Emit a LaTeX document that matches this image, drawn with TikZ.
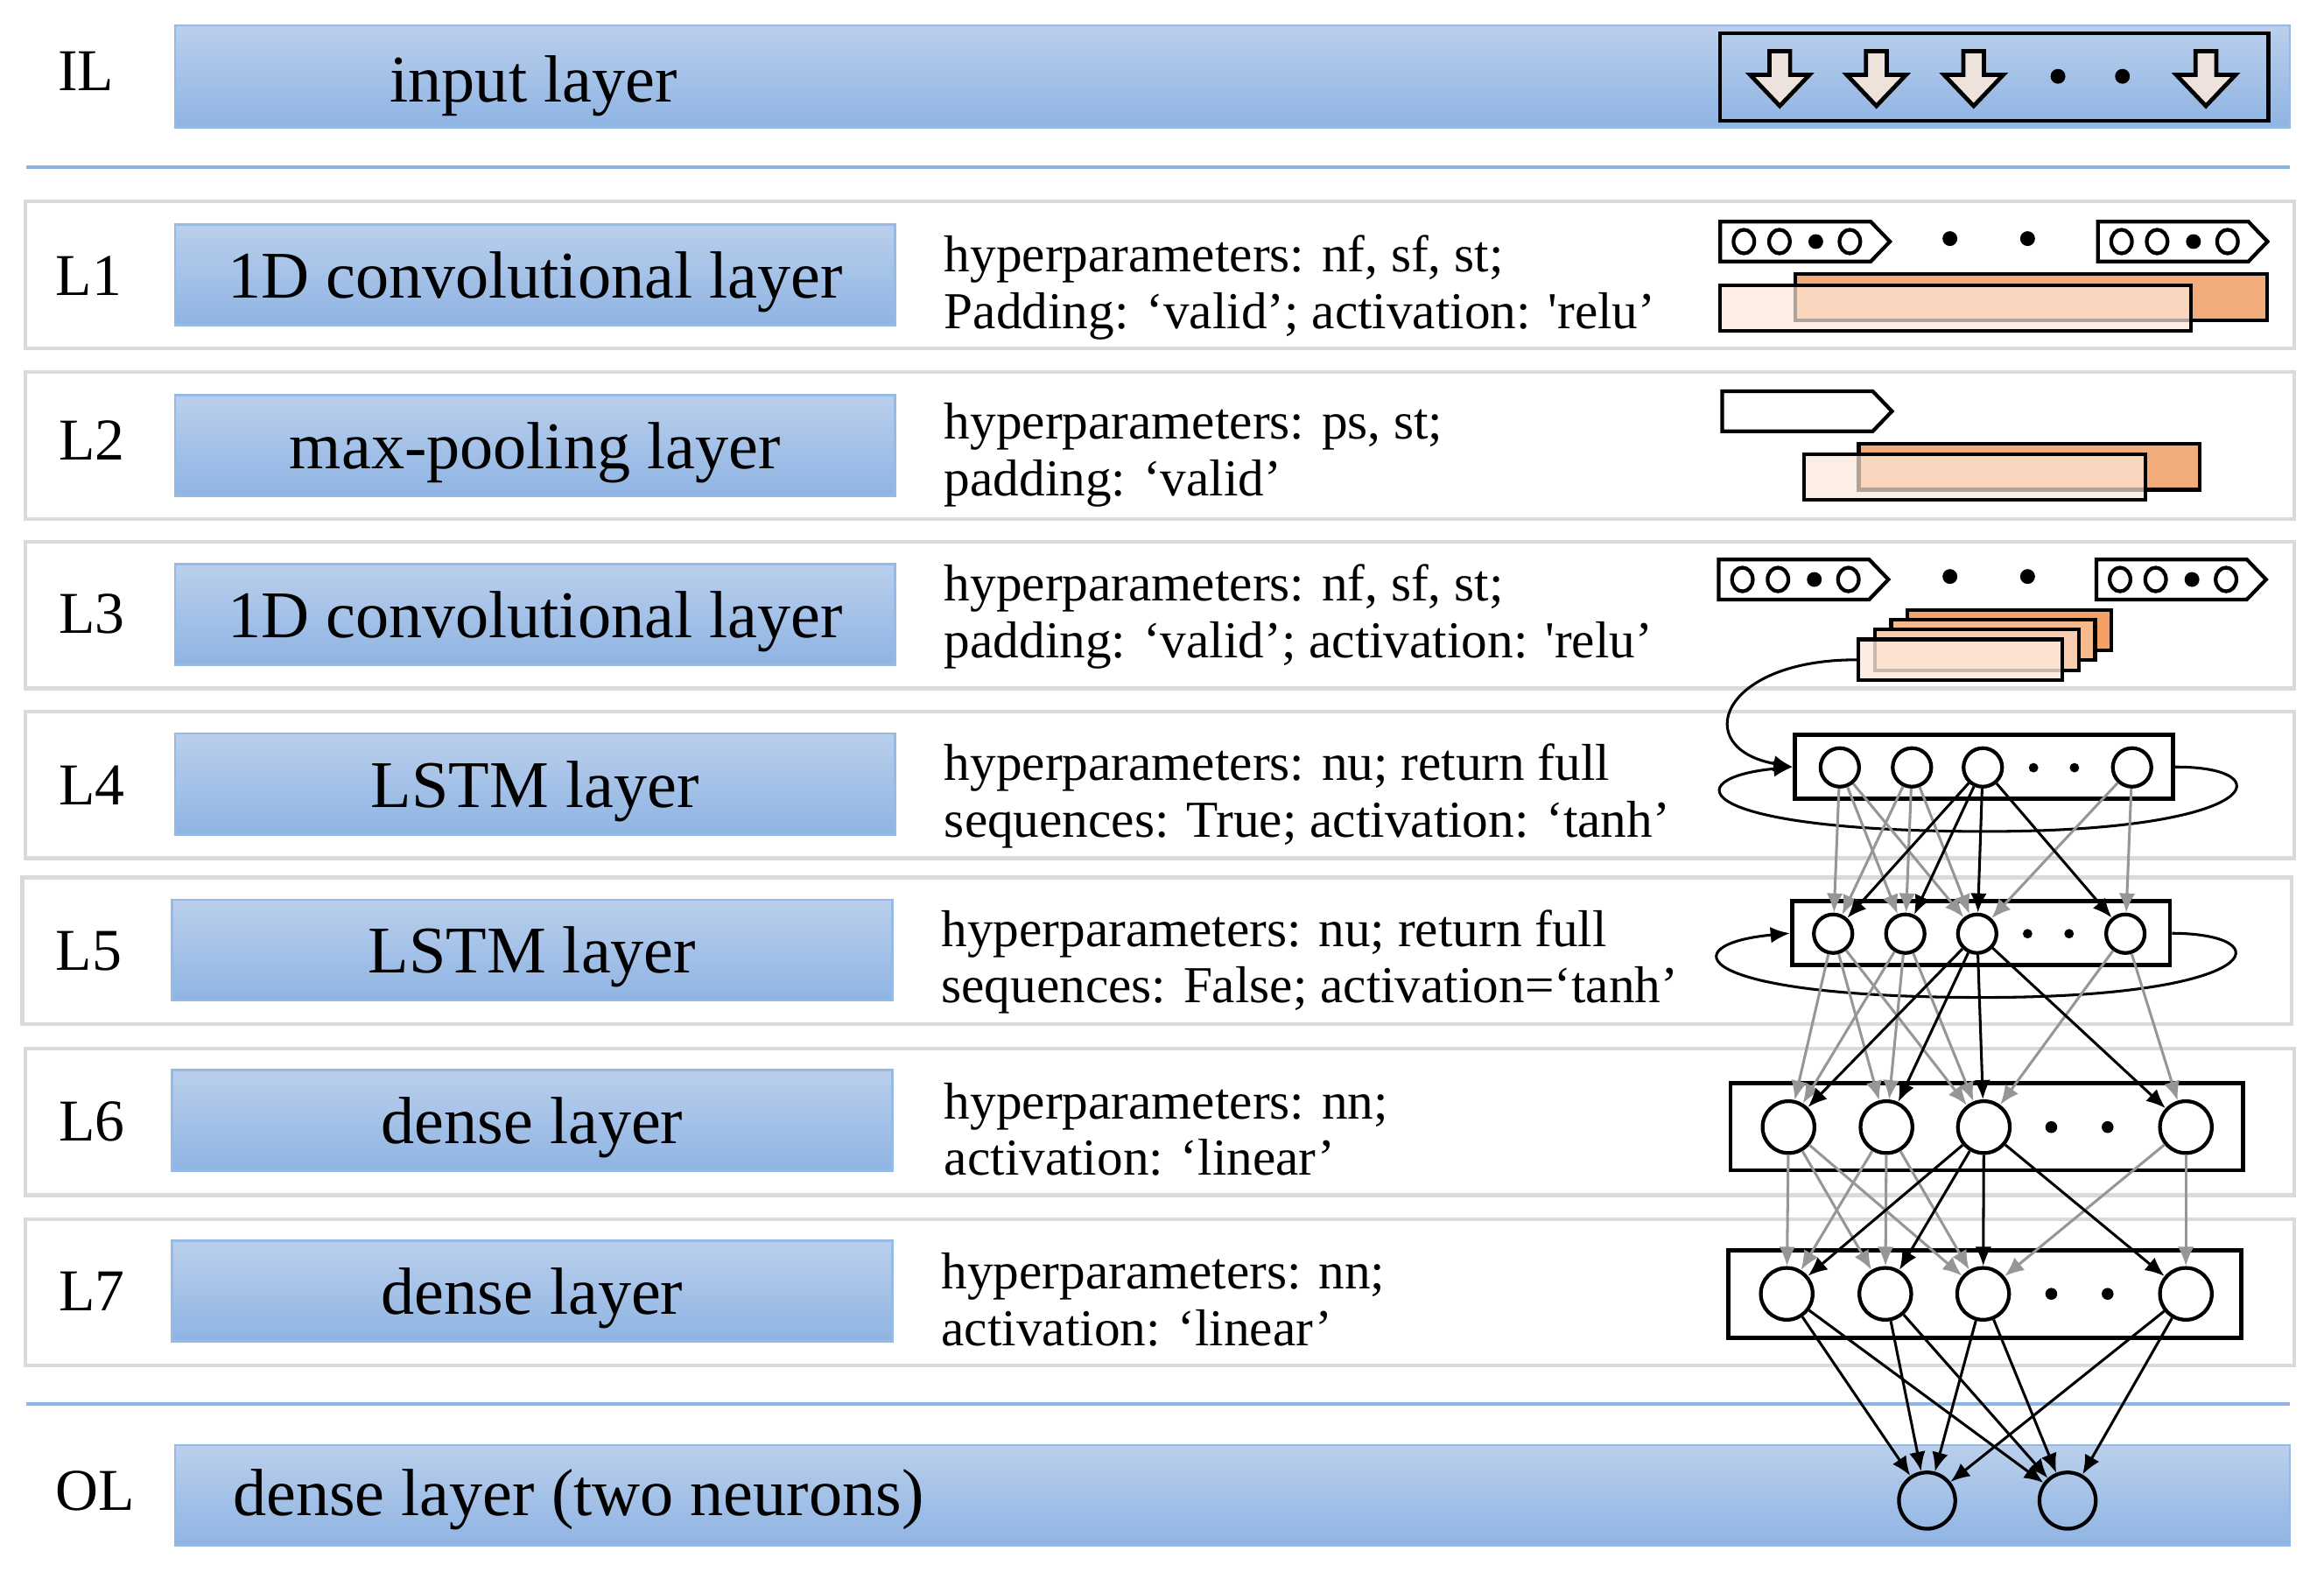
\documentclass[tikz,border=0pt]{standalone}
\usepackage{fontspec}
\setmainfont{Liberation Serif}
\usepackage{xcolor}
\usepackage{tikz}
\usetikzlibrary{shapes.geometric, arrows, arrows.meta}
\definecolor{bartop}{RGB}{186,207,236}
\definecolor{barbot}{RGB}{143,180,227}
\definecolor{barline}{RGB}{150,186,230}
\definecolor{rowline}{RGB}{218,218,218}
\definecolor{sepline}{RGB}{141,180,226}
\definecolor{tipfill}{RGB}{238,226,220}
\definecolor{mapback}{RGB}{242,172,124}
\definecolor{mapfront}{RGB}{252,232,218}
\definecolor{linegray}{RGB}{150,150,150}
\tikzstyle{rowbox} = [rectangle, draw=rowline, line width=2.5pt, fill=white, minimum width=1531pt, minimum height=99pt, inner sep=0pt]
\tikzstyle{layerbar} = [rectangle, draw=barline, line width=1.5pt, top color=bartop, bottom color=barbot, minimum width=486pt, minimum height=68pt, inner sep=0pt, text depth=0pt, font=\fontsize{45}{50}\selectfont]
\tikzstyle{bartext} = [inner sep=0pt, text depth=0pt, font=\fontsize{45}{50}\selectfont]
\tikzstyle{laytag} = [inner sep=0pt, font=\fontsize{40}{44}\selectfont]
\tikzstyle{hyper} = [anchor=west, align=left, inner sep=0pt, font=\fontsize{35}{38}\selectfont]
\tikzstyle{unitbox} = [rectangle, draw=black, line width=2.8pt, fill=white, inner sep=0pt]
\tikzstyle{neuron} = [circle, draw=black, line width=2.5pt, minimum size=26pt, inner sep=0pt]
\tikzstyle{bigneuron} = [neuron, minimum size=35pt]
\tikzstyle{outneuron} = [neuron, minimum size=38pt]
\tikzstyle{arrow} = [line width=1.8pt, ->, >={Latex[length=13pt,width=11pt]}]
\tikzstyle{garrow} = [arrow, draw=linegray]
\tikzstyle{sep} = [draw=sepline, line width=2.5pt]
\tikzstyle{fmap} = [draw=black, line width=2.5pt]

\begin{document}
\begin{tikzpicture}[x=1pt, y=-1pt]
\useasboundingbox (0,0) rectangle (1568,1065);

% input layer
\node (ilab) [laytag] at (58,48) {IL};
\node (inbar) [layerbar, minimum width=1427pt, minimum height=69pt] at (831.5,51.5) {};
\node (intext) [bartext] at (360,53) {input layer};
\node (inbox) [unitbox, fill=none, minimum width=370pt, minimum height=59pt] at (1345.5,52) {};
\foreach \ax in {1200.8,1266,1331.6,1488.3}
  \draw [fill=tipfill, line width=2.8pt, line join=miter] (\ax-7,34.5) -- (\ax+7,34.5) -- (\ax+7,50.5) -- (\ax+20,50.5) -- (\ax,71.5) -- (\ax-20,50.5) -- (\ax-7,50.5) -- cycle;
\fill (1388.5,51.5) circle (5);
\fill (1432,51.5) circle (5);
\draw [sep] (18,113) -- (1545,113);

% hidden layers
\node (row1) [rowbox] at (782.5,185.5) {};
\node (row2) [rowbox] at (782.5,300.5) {};
\node (row3) [rowbox] at (782.5,415) {};
\node (row4) [rowbox] at (782.5,529.5) {};
\node (row5) [rowbox] at (780.5,641.5) {};
\node (row6) [rowbox] at (782.5,757) {};
\node (row7) [rowbox] at (782.5,872) {};

\node (lab1) [laytag] at (60,186) {L1};
\node (lab2) [laytag] at (62,297) {L2};
\node (lab3) [laytag] at (62,414) {L3};
\node (lab4) [laytag] at (62,530) {L4};
\node (lab5) [laytag] at (60,642) {L5};
\node (lab6) [laytag] at (62,757) {L6};
\node (lab7) [laytag] at (62,871) {L7};

\node (bar1) [layerbar] at (361,185.5) {1D convolutional layer};
\node (bar2) [layerbar] at (361,300.5) {max-pooling layer};
\node (bar3) [layerbar] at (361,414.5) {1D convolutional layer};
\node (bar4) [layerbar] at (361,529) {LSTM layer};
\node (bar5) [layerbar] at (359,641) {LSTM layer};
\node (bar6) [layerbar] at (359,756) {dense layer};
\node (bar7) [layerbar] at (359,871) {dense layer};

\node (par1) [hyper] at (637,194) {hyperparameters: nf, sf, st;\\Padding: ‘valid’; activation: \textquotesingle relu’};
\node (par2) [hyper] at (637,307) {hyperparameters: ps, st;\\padding: ‘valid’};
\node (par3) [hyper] at (637,416) {hyperparameters: nf, sf, st;\\padding: ‘valid’; activation: \textquotesingle relu’};
\node (par4) [hyper] at (637,537) {hyperparameters: nu; return full\\sequences: True; activation: ‘tanh’};
\node (par5) [hyper] at (635,649) {hyperparameters: nu; return full\\sequences: False; activation=‘tanh’};
\node (par6) [hyper] at (637,762) {hyperparameters: nn;\\activation: ‘linear’};
\node (par7) [hyper] at (635,877) {hyperparameters: nn;\\activation: ‘linear’};

% filter windows (L1, L3)
\foreach \px/\py in {1160.6/163, 1415.4/163, 1159.6/391, 1414.4/391} {
  \draw [fmap, fill=white] (\px,\py-13.5) -- (\px+101.5,\py-13.5) -- (\px+114.5,\py) -- (\px+101.5,\py+13.5) -- (\px,\py+13.5) -- cycle;
  \draw [line width=2.5pt] (\px+16,\py) ellipse (7 and 8);
  \draw [line width=2.5pt] (\px+40,\py) ellipse (7 and 8);
  \fill (\px+64.5,\py) circle (5);
  \draw [line width=2.5pt] (\px+87.5,\py) ellipse (7 and 8);
}
\foreach \py in {161,389} {
  \fill (1315.6,\py) circle (5);
  \fill (1368,\py) circle (5);
}
% pooling window (L2)
\draw [fmap, fill=white] (1162,264) -- (1263.5,264) -- (1276.5,277.5) -- (1263.5,291) -- (1162,291) -- cycle;

% feature maps
\draw [fmap, fill=mapback] (1211.1,185) rectangle (1529.4,216);
\draw [fmap, fill=mapfront, fill opacity=0.7] (1160.6,192.7) rectangle (1478.2,223.2);
\draw [fmap, fill=mapback] (1254.1,299.5) rectangle (1484,330.4);
\draw [fmap, fill=mapfront, fill opacity=0.7] (1217,306.5) rectangle (1447.4,337.2);
\draw [fmap, fill={rgb,255:red,242;green,160;blue,100}] (1287,411.5) rectangle (1424.6,439);
\draw [fmap, fill={rgb,255:red,245;green,185;blue,140}] (1276,418) rectangle (1413.6,445.5);
\draw [fmap, fill={rgb,255:red,248;green,206;blue,176}] (1265,424.7) rectangle (1402.6,452.2);
\node (fmap4) [rectangle, fmap, fill=mapfront, fill opacity=0.8, draw opacity=1, minimum width=137.6pt, minimum height=27.5pt, inner sep=0pt] at (1322.8,445.2) {};

% LSTM layers
\node (l4box) [unitbox, minimum width=255pt, minimum height=43pt] at (1338.5,517.5) {};
\node (l5box) [unitbox, minimum width=255pt, minimum height=43pt] at (1336.5,629.7) {};
\node (a1) [neuron] at (1241.3,517.8) {};
\node (a2) [neuron] at (1290,517.8) {};
\node (a3) [neuron] at (1337.8,517.8) {};
\node (a4) [neuron] at (1438.5,517.8) {};
\node (b1) [neuron] at (1236.8,630) {};
\node (b2) [neuron] at (1285.5,630) {};
\node (b3) [neuron] at (1334,630) {};
\node (b4) [neuron] at (1434,630) {};
\fill (1372,518) circle (3.2);
\fill (1399.6,518) circle (3.2);
\fill (1368,630) circle (3.2);
\fill (1396,630) circle (3.2);

\draw [arrow] (fmap4.west) .. controls (1160,445) and (1140,505) .. (l4box.west);
\draw [arrow] (l4box.east) .. controls (1540,517) and (1530,561) .. (1340,561) .. controls (1140,561) and (1130,525) .. (l4box.west);
\draw [arrow] (l5box.east) .. controls (1540,630) and (1530,673) .. (1338,673) .. controls (1138,673) and (1128,637) .. (l5box.west);

% dense layers
\node (l6box) [unitbox, minimum width=346pt, minimum height=58.6pt] at (1340.5,760.3) {};
\node (l7box) [unitbox, minimum width=346pt, minimum height=59pt] at (1339.2,873) {};
\node (c1) [bigneuron] at (1206.7,760.5) {};
\node (c2) [bigneuron] at (1272.8,760.5) {};
\node (c3) [bigneuron] at (1338.5,760.5) {};
\node (c4) [bigneuron] at (1474.8,760.5) {};
\node (d1) [bigneuron] at (1205.5,873) {};
\node (d2) [bigneuron] at (1272,873) {};
\node (d3) [bigneuron] at (1338,873) {};
\node (d4) [bigneuron] at (1474.8,873) {};
\foreach \dx in {1384,1422} {
  \fill (\dx,760.5) circle (4);
  \fill (\dx,873) circle (4);
}

% connections
\foreach \s/\t in {1/1,1/2,1/3,2/1,2/2,2/3,4/3,4/4} {
  \draw [garrow] (a\s) -- (b\t);
  \draw [garrow] (b\s) -- (c\t);
  \draw [garrow] (c\s) -- (d\t);
}
\foreach \t in {1,...,4} {
  \draw [arrow] (a3) -- (b\t);
  \draw [arrow] (b3) -- (c\t);
  \draw [arrow] (c3) -- (d\t);
}

% output layer
\draw [sep] (18,947.5) -- (1545,947.5);
\node (olab) [laytag] at (64,1006) {OL};
\node (olbar) [layerbar, minimum width=1427pt, minimum height=68pt] at (831.5,1009) {};
\node (oltext) [bartext, anchor=west] at (157,1007) {dense layer (two neurons)};
\node (o1) [outneuron] at (1300.2,1012.5) {};
\node (o2) [outneuron] at (1395,1012.5) {};
\foreach \s in {1,...,4}
  \foreach \t in {1,2}
    \draw [arrow] (d\s) -- (o\t);
\end{tikzpicture}
\end{document}
